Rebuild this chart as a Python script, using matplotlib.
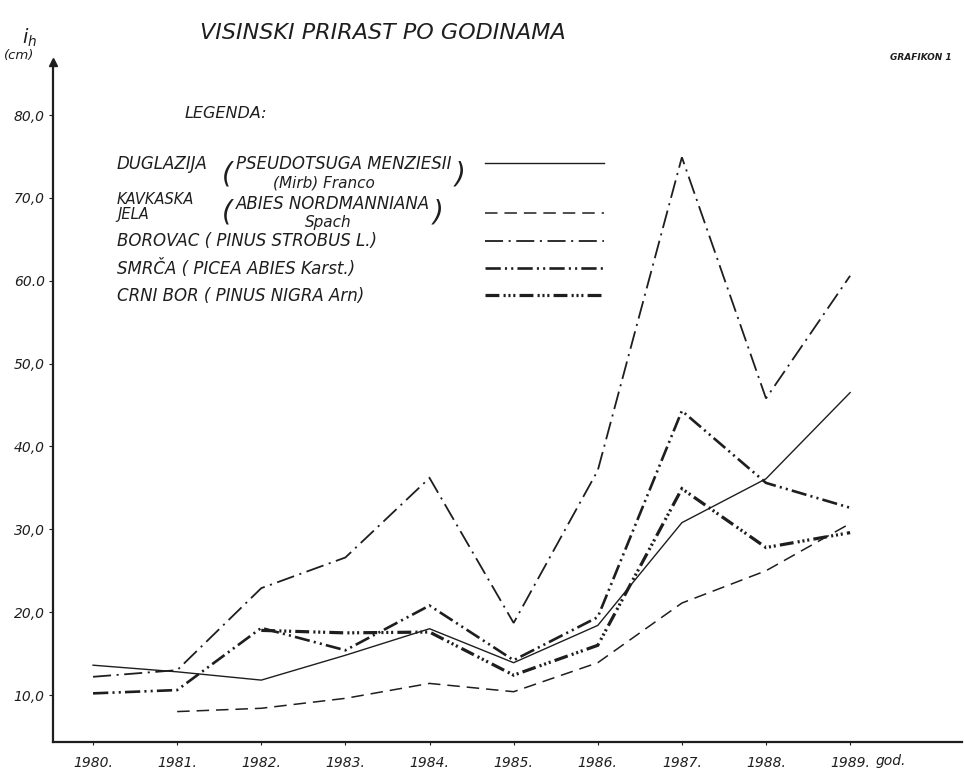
import numpy as np
import matplotlib
matplotlib.use('Agg')
import matplotlib.pyplot as plt
from matplotlib.lines import Line2D

plt.rcParams['font.family'] = ['DejaVu Sans']
plt.rcParams['lines.scale_dashes'] = False

years = [1980, 1981, 1982, 1983, 1984, 1985, 1986, 1987, 1988, 1989]
year_labels = ['1980.', '1981.', '1982.', '1983.', '1984.', '1985.', '1986.', '1987.', '1988.', '1989.']
y_ticks = [10, 20, 30, 40, 50, 60, 70, 80]
y_tick_labels = ['10,0', '20,0', '30,0', '40,0', '50,0', '60.0', '70,0', '80,0']

# visinski prirast (cm) po godinama
duglazija = [13.6, 12.8, 11.8, 14.8, 18.0, 13.9, 18.4, 30.8, 36.1, 46.5]
kavkaska_jela = [None, 8.0, 8.4, 9.6, 11.4, 10.4, 13.9, 21.1, 25.0, 30.7]
borovac = [12.2, 13.0, 22.9, 26.6, 36.2, 18.7, 37.1, 74.9, 45.8, 60.6]
smrca = [10.2, 10.6, 18.1, 15.4, 20.8, 14.2, 19.4, 44.3, 35.6, 32.6]
crni_bor = [None, None, 17.8, 17.5, 17.6, 12.4, 16.0, 34.9, 27.8, 29.6]

ink = '#1e1e1e'
W, H = 964, 774


def fx(px):
    return px / W


def fy(py):
    return 1 - py / H


styles = [
    (duglazija, dict(ls='-', lw=1.0)),
    (kavkaska_jela, dict(ls=(0, (9, 5)), lw=1.1)),
    (borovac, dict(ls=(0, (13, 4, 1.5, 4)), lw=1.3)),
    (smrca, dict(ls=(0, (11, 3, 1.5, 3, 1.5, 3)), lw=1.9)),
    (crni_bor, dict(ls=(0, (10, 3, 1.5, 2, 1.5, 2, 1.5, 3)), lw=2.3)),
]

fig = plt.figure(figsize=(9.64, 7.74), dpi=100)
fig.patch.set_facecolor('white')
ax = fig.add_axes([fx(53), fy(742), fx(962) - fx(53), fy(62) - fy(742)])

for vals, st in styles:
    ax.plot(years, np.array(vals, dtype=float), color=ink, solid_joinstyle='miter',
            dash_joinstyle='miter', **st)

ax.set_xlim(1979.524, 1990.33)
ax.set_ylim(4.33, 86.4)
for s in ['top', 'right']:
    ax.spines[s].set_visible(False)
for s in ['left', 'bottom']:
    ax.spines[s].set_linewidth(1.6)
    ax.spines[s].set_color(ink)

ax.set_xticks(years)
ax.set_xticklabels(year_labels, fontstyle='italic', fontsize=10, color=ink)
ax.set_yticks(y_ticks)
ax.set_yticklabels(y_tick_labels, fontstyle='italic', fontsize=10, color=ink)
ax.tick_params(axis='x', length=2, pad=8, color=ink)
ax.tick_params(axis='y', length=3, pad=3, color=ink)

# strelica na y osi
ax.plot(0, 1, '^', transform=ax.transAxes, clip_on=False, ms=6, color=ink)

fig.text(fx(876), fy(761), 'god.', fontstyle='italic', fontsize=10, color=ink, va='center')
fig.text(fx(22), fy(38), r'$i_h$', fontsize=14, color=ink, va='center')
fig.text(fx(4), fy(56), '(cm)', fontstyle='italic', fontsize=9.5, color=ink, va='center')

fig.text(fx(200), fy(33), 'VISINSKI PRIRAST PO GODINAMA', fontstyle='italic',
         fontsize=16, color=ink, va='center')
fig.text(fx(890), fy(58), 'GRAFIKON 1', fontstyle='italic', fontweight='bold',
         fontsize=6.5, color=ink, va='center')

# legenda
fig.text(fx(185), fy(114), 'LEGENDA:', fontstyle='italic', fontsize=11.5, color=ink, va='center')
leg = dict(fontstyle='italic', fontsize=12, color=ink, va='center')
sub = dict(fontstyle='italic', fontsize=11, color=ink, va='center')
small = dict(fontstyle='italic', fontsize=10.5, color=ink, va='center')
paren = dict(fontstyle='italic', fontsize=20, color=ink, va='center')

fig.text(fx(117), fy(164), 'DUGLAZIJA', **leg)
fig.text(fx(222), fy(174), '(', **paren)
fig.text(fx(236), fy(164), 'PSEUDOTSUGA MENZIESII', **leg)
fig.text(fx(273), fy(183), '(Mirb) Franco', **sub)
fig.text(fx(455), fy(174), ')', **paren)

fig.text(fx(117), fy(200), 'KAVKASKA', **small)
fig.text(fx(117), fy(214), 'JELA', **small)
fig.text(fx(222), fy(213), '(', **paren)
fig.text(fx(236), fy(204), 'ABIES NORDMANNIANA', **leg)
fig.text(fx(305), fy(223), 'Spach', **sub)
fig.text(fx(433), fy(213), ')', **paren)

fig.text(fx(117), fy(241), 'BOROVAC ( PINUS STROBUS L.)', **leg)
fig.text(fx(117), fy(268), 'SMRČA ( PICEA ABIES Karst.)', **leg)
fig.text(fx(117), fy(296), 'CRNI BOR ( PINUS NIGRA Arn)', **leg)

for (vals, st), ly in zip(styles, [163, 213, 241, 268, 295]):
    fig.add_artist(Line2D([fx(485), fx(604)], [fy(ly), fy(ly)], color=ink,
                          transform=fig.transFigure, **st))

fig.savefig('out.png', dpi=100, facecolor='white')
